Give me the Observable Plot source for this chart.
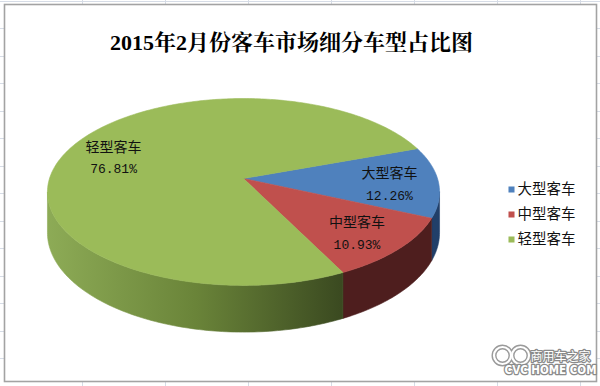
<!DOCTYPE html>
<html>
<head>
<meta charset="utf-8">
<script src="https://cdn.jsdelivr.net/npm/d3@7"></script>
<script src="https://cdn.jsdelivr.net/npm/@observablehq/plot@0.6"></script>
<style>
  html, body { margin: 0; padding: 0; }
  body {
    width: 600px; height: 386px; overflow: hidden;
    background-color: #ffffff;
    background-image:
      repeating-linear-gradient(90deg, transparent 0 82px, #d6dce6 82px 83px),
      repeating-linear-gradient(0deg, transparent 0 26.5px, #d6dce6 26.5px 27.5px);
  }
  #chart svg { display: block; }
</style>
</head>
<body>
<div id="chart"></div>
<script>
// ---- data ----
const title = "2015年2月份客车市场细分车型占比图";
const categories = ["大型客车", "中型客车", "轻型客车"];
const shares = [12.26, 10.93, 76.81];
const percentLabels = ["12.26%", "10.93%", "76.81%"];
const topColors = ["#4f81bd", "#c0504d", "#9bbb59"];
const sideColors = ["#213f69", "#4e1e1e", "url(#greenSide)"];
const firstSliceAngle = 70; // Excel "angle of first slice", degrees
const watermarkName = "商用车之家";
const watermarkSite = "CVC HOME COM";

// ---- 3D pie geometry (layout) ----
const cx = 243, cy = 178;      // projected centre
const A = 194, B = 91.5;       // radii
const k = 0.144;               // perspective factor
const D = 40;                  // depth
const rad = Math.PI / 180;

function proj(t, f = 1, drop = 0) {
  const u = f * Math.cos(t), v = f * Math.sin(t);
  const w = 1 - k * v;
  return {x: cx + A * u / w, y: cy + (B * v + drop) / w};
}
function rim(a, b, drop = 0) {
  const n = Math.max(2, Math.ceil(Math.abs(b - a) / rad));
  return d3.range(n + 1).map(i => proj(a + (b - a) * i / n, 1, drop));
}

const total = d3.sum(shares);
let acc = (firstSliceAngle - 90) * rad;
const slices = categories.map((c, i) => {
  const a = acc, b = acc + shares[i] / total * 2 * Math.PI;
  acc = b;
  return {i, a, b, mid: (a + b) / 2};
});

// visible side range
const tMin = Math.asin(k), tMax = Math.PI - Math.asin(k);

const marks = [];
marks.push(Plot.frame({fill: "white", stroke: "#a3a3a3", strokeWidth: 1.6,
  insetLeft: 4, insetTop: 4, insetRight: 4, insetBottom: 5}));

// side faces
for (const s of slices) {
  for (const shift of [-2 * Math.PI, 0, 2 * Math.PI]) {
    const a = Math.max(s.a + shift, tMin), b = Math.min(s.b + shift, tMax);
    if (b > a) {
      const pts = [...rim(a, b, 0), ...rim(b, a, D)];
      pts.push(pts[0]);
      marks.push(Plot.line(pts, {x: "x", y: "y", fill: sideColors[s.i],
        stroke: sideColors[s.i], strokeWidth: 0.6, curve: "linear"}));
    }
  }
}
// top faces
for (const s of slices) {
  const pts = [{x: cx, y: cy}, ...rim(s.a, s.b), {x: cx, y: cy}];
  marks.push(Plot.line(pts, {x: "x", y: "y", fill: topColors[s.i],
    stroke: topColors[s.i], strokeWidth: 0.6, curve: "linear"}));
}

// data labels
const labelPts = slices.map(s => {
  const p = proj(s.mid, 0.75);
  return {name: categories[s.i], pct: percentLabels[s.i], x: p.x, y: p.y + 3};
});
marks.push(Plot.text(labelPts, {x: "x", y: d => d.y - 10, text: "name",
  fontSize: 14, fontFamily: "Noto Sans CJK SC, sans-serif", fill: "#111"}));
marks.push(Plot.text(labelPts, {x: "x", y: d => d.y + 12, text: "pct",
  fontSize: 13, fontFamily: "Liberation Mono, DejaVu Sans Mono, monospace", fill: "#111"}));

// legend
const legend = categories.map((c, i) => ({c, i, color: topColors[i]}));
const legendX = 511, legendY0 = 189, legendStep = 25;
marks.push(Plot.dot(legend, {x: () => legendX, y: d => legendY0 + d.i * legendStep,
  symbol: "square", r: 3.4, fill: "color", stroke: null}));
marks.push(Plot.text(legend, {x: () => legendX + 6, y: d => legendY0 + d.i * legendStep, text: "c",
  textAnchor: "start", fontSize: 14.5, fontFamily: "Noto Sans CJK SC, sans-serif", fill: "#111"}));

// title
marks.push(Plot.text([title], {x: () => 291, y: () => 42, text: d => d,
  fontSize: 22, fontWeight: "bold",
  fontFamily: "Liberation Serif, Noto Serif CJK SC, Noto Sans CJK SC, serif", fill: "#000"}));

// watermark
const logo = [{x: 502, y: 355}, {x: 520, y: 355}];
marks.push(Plot.dot(logo, {x: "x", y: "y", r: 8.5, stroke: "#9a9a9a", strokeWidth: 5, fill: "none"}));
marks.push(Plot.dot(logo, {x: "x", y: "y", r: 8.5, stroke: "white", strokeWidth: 2.2, fill: "none"}));
marks.push(Plot.text([watermarkName], {x: () => 560, y: () => 357, text: d => d, fontSize: 12,
  fontFamily: "Noto Sans CJK SC, sans-serif", fill: "white", stroke: "#8a8a8a", strokeWidth: 2.5, paintOrder: "stroke"}));
marks.push(Plot.text([watermarkSite], {x: () => 550, y: () => 370, text: d => d, fontSize: 11.5,
  fontWeight: "bold", fontFamily: "DejaVu Sans Condensed, Liberation Sans Narrow, sans-serif",
  fill: "white", stroke: "#8a8a8a", strokeWidth: 2.5, paintOrder: "stroke"}));

const svg = Plot.plot({
  width: 600, height: 386,
  margin: 0,
  x: {domain: [0, 600], range: [0, 600], axis: null},
  y: {domain: [0, 386], range: [0, 386], axis: null},
  style: {background: "transparent", overflow: "visible"},
  marks
});

// gradient for the green side
const defs = d3.select(svg).insert("defs", ":first-child");
const g = defs.append("linearGradient").attr("id", "greenSide")
  .attr("gradientUnits", "userSpaceOnUse")
  .attr("x1", 47).attr("y1", 0).attr("x2", 343).attr("y2", 0);
g.append("stop").attr("offset", "0").attr("stop-color", "#8dab56");
g.append("stop").attr("offset", "0.5").attr("stop-color", "#6a8439");
g.append("stop").attr("offset", "1").attr("stop-color", "#3a4920");

document.getElementById("chart").appendChild(svg);
</script>
</body>
</html>
